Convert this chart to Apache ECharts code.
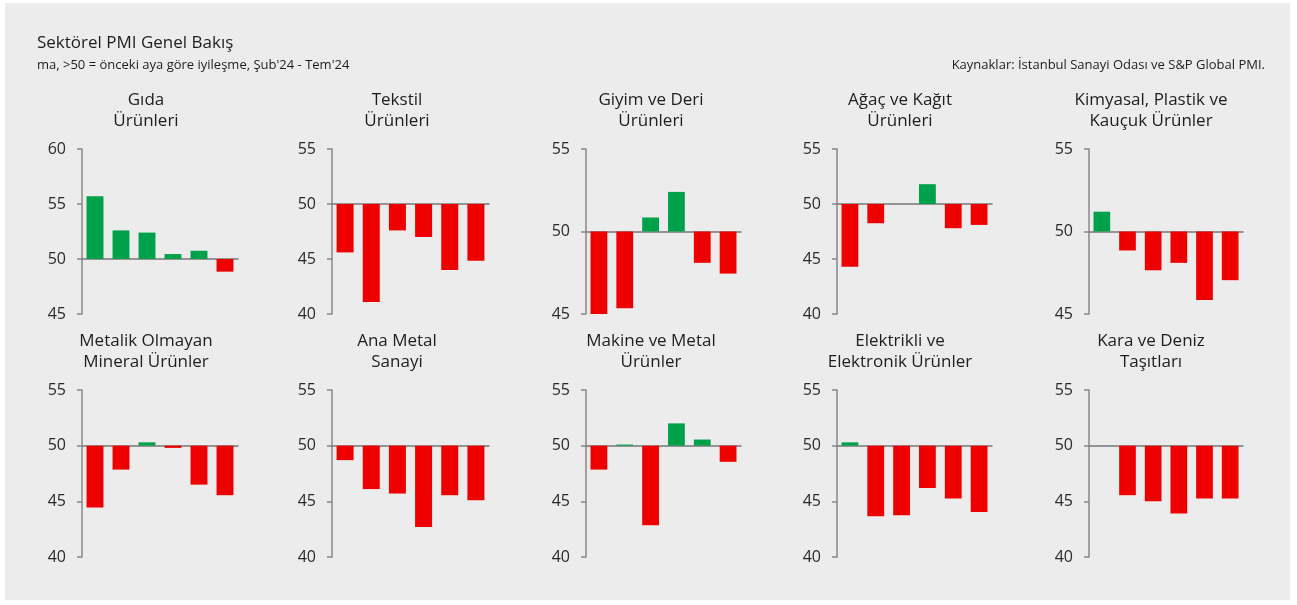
<!DOCTYPE html>
<html>
<head>
<meta charset="utf-8">
<script src="https://cdn.jsdelivr.net/npm/echarts@6/dist/echarts.min.js"></script>
<style>
  html, body { margin: 0; padding: 0; background: #fff; }
  #panel { position: absolute; left: 5px; top: 3px; width: 1285px; height: 597px; background: #ececec; }
  #main { position: absolute; left: 0; top: 0; width: 1297px; height: 605px; }
</style>
</head>
<body>
<div id="panel"></div>
<div id="main"></div>
<script>
// aylar: Şub'24 - Tem'24
var months = ['Şub 24', 'Mar 24', 'Nis 24', 'May 24', 'Haz 24', 'Tem 24'];

var sectors = [
    'Gıda\nÜrünleri',
    'Tekstil\nÜrünleri',
    'Giyim ve Deri\nÜrünleri',
    'Ağaç ve Kağıt\nÜrünleri',
    'Kimyasal, Plastik ve\nKauçuk Ürünler',
    'Metalik Olmayan\nMineral Ürünler',
    'Ana Metal\nSanayi',
    'Makine ve Metal\nÜrünler',
    'Elektrikli ve\nElektronik Ürünler',
    'Kara ve Deniz\nTaşıtları'
];

// PMI değerleri
var gida       = [55.7, 52.6, 52.4, 50.45, 50.75, 48.85];
var tekstil    = [45.6, 41.1, 47.6, 47.0, 44.0, 44.85];
var giyim      = [45.0, 45.35, 50.85, 52.4, 48.1, 47.45];
var agac       = [44.3, 48.25, 50.0, 51.8, 47.8, 48.1];
var kimyasal   = [51.2, 48.85, 47.65, 48.1, 45.85, 47.05];
var metalik    = [44.45, 47.85, 50.3, 49.8, 46.5, 45.55];
var anaMetal   = [48.7, 46.1, 45.7, 42.7, 45.55, 45.1];
var makine     = [47.85, 50.1, 42.85, 52.0, 50.55, 48.55];
var elektrikli = [50.3, 43.65, 43.75, 46.2, 45.25, 44.05];
var kara       = [50.0, 45.55, 45.0, 43.9, 45.25, 45.25];

var allData = [gida, tekstil, giyim, agac, kimyasal, metalik, anaMetal, makine, elektrikli, kara];

// eksen aralıkları
var yMin = [45, 40, 45, 40, 45, 40, 40, 40, 40, 40];
var yMax = [60, 55, 55, 55, 55, 55, 55, 55, 55, 55];

var FONT = '"Open Sans"';
var colLeft  = [82, 332, 586, 837, 1089];
var colRight = [238, 489, 741, 992, 1243];
var titleX   = [146, 397, 651, 900, 1151];
var rowTop    = [149, 390];
var rowBottom = [314, 557];
var titleTop  = [90, 331];

var grids = [], xAxes = [], yAxes = [], series = [];
var titles = [
    { text: 'Sektörel PMI Genel Bakış', left: 37, top: 35, padding: 0,
      textStyle: { fontFamily: FONT, fontSize: 17, fontWeight: 'normal', color: '#1e1e1e' } },
    { text: 'ma, >50 = önceki aya göre iyileşme, Şub\'24 - Tem\'24', left: 37, top: 59, padding: 0,
      textStyle: { fontFamily: FONT, fontSize: 13, fontWeight: 'normal', color: '#1e1e1e' } },
    { text: 'Kaynaklar: İstanbul Sanayi Odası ve S&P Global PMI.', left: 1265, top: 59, padding: 0,
      textAlign: 'right',
      textStyle: { fontFamily: FONT, fontSize: 13, fontWeight: 'normal', color: '#1e1e1e' } }
];

for (var i = 0; i < allData.length; i++) {
    var row = Math.floor(i / 5), col = i % 5;
    grids.push({
        left: colLeft[col], top: rowTop[row],
        width: colRight[col] - colLeft[col], height: rowBottom[row] - rowTop[row]
    });
    titles.push({
        text: sectors[i], left: titleX[col], top: titleTop[row], padding: 0,
        textAlign: 'center',
        textStyle: { fontFamily: FONT, fontSize: 17, fontWeight: 'normal', color: '#1e1e1e', lineHeight: 21 }
    });
    xAxes.push({
        type: 'category', gridIndex: i, data: months,
        axisLine: { onZero: true, lineStyle: { color: '#777', width: 1.5 } },
        axisTick: { show: false },
        axisLabel: { show: false }
    });
    yAxes.push({
        type: 'value', gridIndex: i,
        min: yMin[i] - 50, max: yMax[i] - 50, interval: 5,
        axisLine: { show: true, lineStyle: { color: '#888', width: 1.5 } },
        axisTick: { show: true, length: 5, lineStyle: { color: '#888', width: 1.5 } },
        splitLine: { show: false },
        axisLabel: {
            margin: 16, fontFamily: FONT, fontSize: 16, color: '#2a2a2a',
            formatter: function (v) { return v + 50; }
        }
    });
    // 50 çizgisinden sapma olarak çiz
    series.push({
        type: 'bar', xAxisIndex: i, yAxisIndex: i,
        barCategoryGap: '35%',
        data: allData[i].map(function (v) {
            return {
                value: +(v - 50).toFixed(2),
                itemStyle: { color: v >= 50 ? '#00a14b' : '#ee0000' }
            };
        })
    });
}

var myChart = echarts.init(document.getElementById('main'));
myChart.setOption({
    animation: false,
    backgroundColor: 'transparent',
    title: titles,
    grid: grids,
    xAxis: xAxes,
    yAxis: yAxes,
    series: series
});
</script>
</body>
</html>
